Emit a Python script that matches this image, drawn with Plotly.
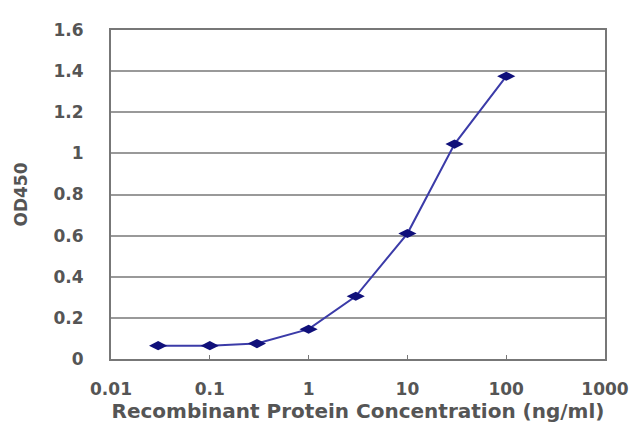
import plotly.graph_objects as go

# ELISA standard curve values
concentration = [0.03, 0.1, 0.3, 1, 3, 10, 30, 100]
od450 = [0.065, 0.065, 0.075, 0.145, 0.305, 0.61, 1.045, 1.375]

x_tickvals = [0.01, 0.1, 1, 10, 100, 1000]
x_ticktext = ["0.01", "0.1", "1", "10", "100", "1000"]
y_tickvals = [0, 0.2, 0.4, 0.6, 0.8, 1, 1.2, 1.4, 1.6]
y_ticktext = ["0", "0.2", "0.4", "0.6", "0.8", "1", "1.2", "1.4", "1.6"]

# page body has an 8px margin, so margins are shifted to land the plot area in place
tick_font = dict(family="DejaVu Sans, Verdana, sans-serif", size=17, color="#555555", weight="bold")
title_font = dict(family="DejaVu Sans, Verdana, sans-serif", size=20, color="#555555", weight="bold")

curve = go.Scatter(
    x=concentration,
    y=od450,
    mode="lines+markers",
    line=dict(color="#3b3ba8", width=2),
    marker=dict(symbol="diamond-wide", size=13, color="#10107a"),
    showlegend=False,
)

layout = go.Layout(
    width=640,
    height=427,
    margin=dict(l=99, r=43, t=22, b=76),
    paper_bgcolor="white",
    plot_bgcolor="white",
    font=tick_font,
    xaxis=dict(
        type="log",
        range=[-2, 3],
        tickvals=x_tickvals,
        ticktext=x_ticktext,
        tickfont=tick_font,
        ticks="inside",
        ticklen=4,
        tickcolor="#777",
        showgrid=False,
        showline=True,
        linecolor="#777",
        linewidth=2,
        mirror=True,
        ticklabelstandoff=14,
        title=dict(text="Recombinant Protein Concentration (ng/ml)", standoff=0, font=title_font),
        zeroline=False,
    ),
    yaxis=dict(
        range=[0, 1.6],
        tickvals=y_tickvals,
        ticktext=y_ticktext,
        tickfont=tick_font,
        ticks="",
        showgrid=True,
        gridcolor="#999",
        gridwidth=1.5,
        showline=True,
        linecolor="#777",
        linewidth=2,
        mirror=True,
        ticklabelstandoff=22,
        title=dict(text="OD450", standoff=22, font=tick_font),
        zeroline=False,
    ),
)

fig = go.Figure(data=[curve], layout=layout)
fig.write_html("out.html")
